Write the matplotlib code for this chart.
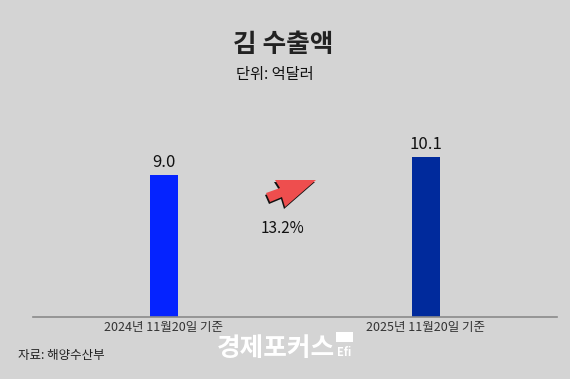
import matplotlib
matplotlib.use("Agg")
import matplotlib.pyplot as plt
from matplotlib.patches import Polygon, Rectangle

plt.rcParams['font.family'] = ['Noto Sans CJK KR', 'DejaVu Sans']

categories = ["2024년 11월20일 기준", "2025년 11월20일 기준"]
values = [9.0, 10.1]
value_labels = ["9.0", "10.1"]
bar_colors = ["#0523FF", "#002A9C"]
change_label = "13.2%"
title = "김 수출액"
unit = "단위: 억달러"
source = "자료: 해양수산부"
watermark = "경제포커스"

W, H = 570, 379
bg = "#d4d4d4"
fig = plt.figure(figsize=(W / 100, H / 100), dpi=100, facecolor=bg)
ax = fig.add_axes([33 / W, 1 - 317 / H, (557 - 33) / W, 12 * 15.8 / H])
ax.set_facecolor(bg)

x = list(range(len(categories)))
ax.bar(x, values, width=0.108, color=bar_colors, zorder=2)
ax.set_xlim(-0.5, 1.5)
ax.set_ylim(0, 12)
for xi, v, lab in zip(x, values, value_labels):
    ax.annotate(lab, (xi, v), xytext=(0, 3), textcoords="offset points",
                ha="center", va="bottom", fontsize=12, color="#111111")

for s in ["top", "right", "left"]:
    ax.spines[s].set_visible(False)
ax.spines["bottom"].set_color("#8a8a8a")
ax.spines["bottom"].set_linewidth(1.2)
ax.set_yticks([])
ax.set_xticks(x)
ax.set_xticklabels(categories, fontsize=9, color="#333333")
ax.tick_params(axis="x", length=0, pad=3)

# titles
fig.text(283 / W, 1 - 45 / H, title, ha="center", va="center",
         fontsize=18.5, fontweight="bold", color="#222222")
fig.text(275 / W, 1 - 74 / H, unit, ha="center", va="center",
         fontsize=11, color="#111111")

# change arrow (decoration)
def fp(pts, dx=0, dy=0):
    return [((px + dx) / W, 1 - (py + dy) / H) for px, py in pts]

arrow = [(275, 180), (280, 188), (266, 193), (270, 202), (282, 197),
         (285, 207), (316, 180)]
fig.patches.append(Polygon(fp(arrow, -1, 2), closed=True, transform=fig.transFigure,
                           facecolor="#111111", edgecolor="none"))
fig.patches.append(Polygon(fp(arrow), closed=True, transform=fig.transFigure,
                           facecolor="#EE4E4E", edgecolor="none"))
fig.text(283 / W, 1 - 228 / H, change_label, ha="center", va="center",
         fontsize=11, color="#111111")

# source
fig.text(18 / W, 1 - 355 / H, source, ha="left", va="center",
         fontsize=9, color="#222222")

# watermark
fig.text(276 / W, 1 - 349 / H, watermark, ha="center", va="center",
         fontsize=18.5, fontweight="bold", color="white")
fig.patches.append(Rectangle((336 / W, 1 - 342 / H), 17 / W, 10 / H,
                             transform=fig.transFigure, facecolor="white",
                             edgecolor="none"))
fig.text(344 / W, 1 - 352 / H, "Efi", ha="center", va="center",
         fontsize=8, color="white", fontweight="bold")

fig.savefig("out.png", dpi=100, facecolor=bg)
